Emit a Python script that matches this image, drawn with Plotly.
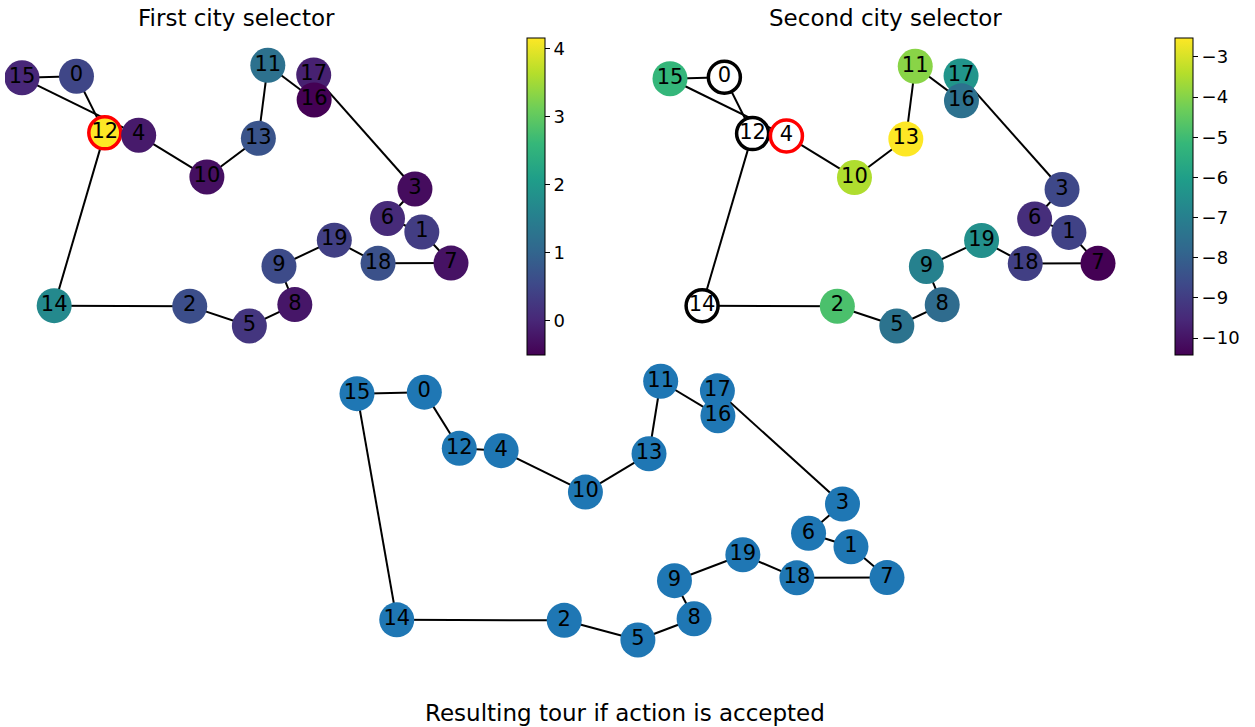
import plotly.graph_objects as go

# City coordinates (normalised), indexed by city id
city_x = [0.127, 0.932, 0.391, 0.916, 0.272, 0.530, 0.852, 1.000, 0.636, 0.599,
          0.431, 0.573, 0.193, 0.551, 0.075, 0.000, 0.681, 0.680, 0.830, 0.728]
city_y = [0.957, 0.360, 0.076, 0.525, 0.731, 0.000, 0.412, 0.241, 0.082, 0.229,
          0.571, 0.999, 0.740, 0.719, 0.078, 0.951, 0.866, 0.962, 0.240, 0.329]

# Current tour and tour after the 2-opt move
tour_before = [0, 12, 14, 2, 5, 8, 9, 19, 18, 7, 1, 6, 3, 17, 16, 11, 13, 10, 4, 15]
tour_after = [0, 12, 4, 10, 13, 11, 16, 17, 3, 6, 1, 7, 18, 19, 9, 8, 5, 2, 14, 15]

# Selector scores per city (None = masked)
first_scores = [0.48, 0.34, 0.62, -0.36, -0.17, 0.24, 0.06, -0.27, -0.22, 0.57,
                -0.31, 1.22, 4.15, 0.71, 1.69, 0.01, -0.50, -0.08, 0.66, 0.38]
second_scores = [None, -8.84, -4.82, -8.68, None, -7.42, -9.39, -10.42, -7.66, -6.95,
                 -3.48, -3.95, None, -2.53, None, -5.21, -7.50, -6.32, -8.92, -6.48]

first_choice = 12
second_choice = 4
masked = [0, 12, 14]

first_ticks = [0, 1, 2, 3, 4]
second_ticks = [-3, -4, -5, -6, -7, -8, -9, -10]

W, H = 1255, 727
FONT = "DejaVu Sans"
NODE = 35


def axis_ranges(u0_px, u1_px, v0_px, v1_px, box):
    """Map normalised coords to pixels inside a domain box (l, t, r, b)."""
    l, t, r, b = box
    sx = u1_px - u0_px
    sy = v0_px - v1_px
    xr = [(l - u0_px) / sx, (r - u0_px) / sx]
    yr = [(v0_px - b) / sy, (v0_px - t) / sy]
    dom_x = [l / W, r / W]
    dom_y = [1 - b / H, 1 - t / H]
    return xr, yr, dom_x, dom_y


def edge_trace(tour, xa, ya):
    xs, ys = [], []
    for i, c in enumerate(tour):
        n = tour[(i + 1) % len(tour)]
        xs += [city_x[c], city_x[n], None]
        ys += [city_y[c], city_y[n], None]
    return go.Scatter(x=xs, y=ys, mode="lines", xaxis=xa, yaxis=ya,
                      line=dict(color="black", width=2), hoverinfo="skip",
                      showlegend=False)


def label_trace(xa, ya):
    return go.Scatter(x=city_x, y=city_y, mode="text", xaxis=xa, yaxis=ya,
                      text=[str(i) for i in range(len(city_x))],
                      textposition="middle center",
                      textfont=dict(family=FONT, size=21, color="black"),
                      hoverinfo="skip", showlegend=False)


def colorbar(x_px, ticks):
    return dict(x=x_px / W, xanchor="left", xpad=0, ypad=0,
                y=1 - 196.5 / H, yanchor="middle", len=317 / H, lenmode="fraction",
                thickness=18, outlinewidth=1, outlinecolor="black",
                ticks="outside", ticklen=5, tickwidth=1, tickcolor="black",
                tickvals=ticks, tickfont=dict(family=FONT, size=18, color="black"))


fig = go.Figure()
draw_order = tour_before

# Panel 1: first city selector
fig.add_trace(edge_trace(tour_before, "x", "y"))
ids = draw_order
fig.add_trace(go.Scatter(
    x=[city_x[i] for i in ids], y=[city_y[i] for i in ids], mode="markers",
    xaxis="x", yaxis="y", hoverinfo="skip", showlegend=False,
    marker=dict(
        size=[NODE - 3 if i == first_choice else NODE for i in ids],
        color=[first_scores[i] for i in ids], colorscale="Viridis",
        cmin=min(first_scores), cmax=max(first_scores),
        line=dict(width=[3.5 if i == first_choice else 0 for i in ids],
                  color=["red" if i == first_choice else "rgba(0,0,0,0)" for i in ids]),
        colorbar=colorbar(527, first_ticks), opacity=1)))
fig.add_trace(label_trace("x", "y"))

# Panel 2: second city selector
fig.add_trace(edge_trace(tour_before, "x2", "y2"))
valid = [s for s in second_scores if s is not None]
ids = [i for i in draw_order if second_scores[i] is not None]
fig.add_trace(go.Scatter(
    x=[city_x[i] for i in ids], y=[city_y[i] for i in ids], mode="markers",
    xaxis="x2", yaxis="y2", hoverinfo="skip", showlegend=False,
    marker=dict(size=NODE, color=[second_scores[i] for i in ids],
                colorscale="Viridis", cmin=min(valid), cmax=max(valid),
                line=dict(width=0), colorbar=colorbar(1175, second_ticks))))
ring = masked + [second_choice]
fig.add_trace(go.Scatter(
    x=[city_x[i] for i in ring], y=[city_y[i] for i in ring], mode="markers",
    xaxis="x2", yaxis="y2", hoverinfo="skip", showlegend=False,
    marker=dict(size=NODE - 3, color="white",
                line=dict(width=3.5,
                          color=["red" if i == second_choice else "black" for i in ring]))))
fig.add_trace(label_trace("x2", "y2"))

# Panel 3: resulting tour
fig.add_trace(edge_trace(tour_after, "x3", "y3"))
fig.add_trace(go.Scatter(
    x=city_x, y=city_y, mode="markers", xaxis="x3", yaxis="y3",
    hoverinfo="skip", showlegend=False,
    marker=dict(size=NODE, color="#1f77b4", line=dict(width=0))))
fig.add_trace(label_trace("x3", "y3"))

panels = {
    "": axis_ranges(22, 451, 326, 65, (5, 42, 470, 345)),
    "2": axis_ranges(670, 1098, 326, 66, (652, 42, 1117, 345)),
    "3": axis_ranges(357, 887, 640, 381, (338, 362, 906, 660)),
}
axis_style = dict(visible=False, showgrid=False, zeroline=False, fixedrange=True)
layout = {}
for k, (xr, yr, dx, dy) in panels.items():
    layout["xaxis" + k] = dict(range=xr, domain=dx, anchor="y" + k, **axis_style)
    layout["yaxis" + k] = dict(range=yr, domain=dy, anchor="x" + k, **axis_style)

titles = [("First city selector", 237, 18),
          ("Second city selector", 885, 18),
          ("Resulting tour if action is accepted", 625, 713)]
annotations = [dict(text=t, x=x / W, y=1 - y / H, xref="paper", yref="paper",
                    xanchor="center", yanchor="middle", showarrow=False,
                    font=dict(family=FONT, size=23, color="black"))
               for t, x, y in titles]

fig.update_layout(width=W, height=H, margin=dict(l=0, r=0, t=0, b=0),
                  paper_bgcolor="white", plot_bgcolor="white",
                  annotations=annotations, **layout)

fig.write_html("out.html")
